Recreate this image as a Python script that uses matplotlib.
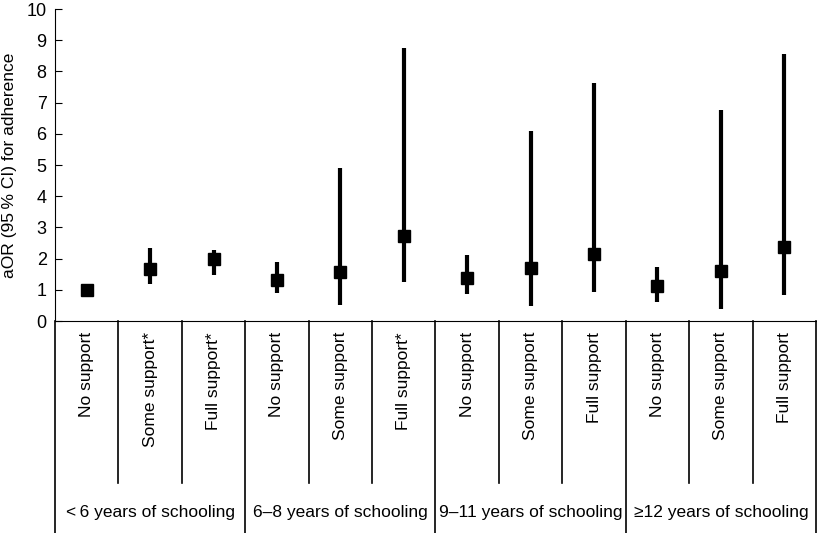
import numpy as np
import matplotlib
matplotlib.use('Agg')
import matplotlib.pyplot as plt

plt.rcParams['font.family'] = ['Liberation Sans', 'DejaVu Sans']

# dados
grupos = ['<\u20096 years of schooling', '6\u20138 years of schooling',
          '9\u201311 years of schooling', '\u226512 years of schooling']
apoio = ['No support', 'Some support*', 'Full support*',
         'No support', 'Some support', 'Full support*',
         'No support', 'Some support', 'Full support',
         'No support', 'Some support', 'Full support']
aor = [1.00, 1.67, 1.98, 1.31, 1.58, 2.72, 1.37, 1.69, 2.15, 1.12, 1.61, 2.38]
ic_inf = [1.00, 1.19, 1.47, 0.89, 0.51, 1.26, 0.86, 0.48, 0.93, 0.60, 0.38, 0.83]
ic_sup = [1.00, 2.33, 2.27, 1.88, 4.90, 8.74, 2.12, 6.09, 7.64, 1.73, 6.76, 8.56]

W, H = 817, 533
fig = plt.figure(figsize=(W / 100, H / 100), dpi=100)
ax = fig.add_axes([55 / W, (H - 321) / H, (816 - 55) / W, (321 - 9) / H])

x = np.arange(len(aor))
ax.vlines(x, ic_inf, ic_sup, color='black', lw=3.0)
ax.plot(x, aor, 's', color='black', ms=9)

ax.set_xlim(-0.5, len(aor) - 0.5)
ax.set_ylim(0, 10)
ax.set_yticks(range(0, 11))
ax.tick_params(axis='y', direction='in', length=5, labelsize=13, pad=6)
ax.set_xticks([])
ax.spines['top'].set_visible(False)
ax.spines['right'].set_visible(False)
ax.set_ylabel('aOR (95\u2009% CI) for adherence', fontsize=12.5, labelpad=7)

# tabela abaixo do eixo
trans = ax.get_xaxis_transform()
px = 1 / 312.0  # pixels -> fração do eixo
y_meio = -(483 - 321) * px
y_fim = -(533 - 321) * px
for i in range(len(aor) + 1):
    xi = i - 0.5
    if i % 3 == 0:
        ax.plot([xi, xi], [0, y_fim], color='black', lw=1.2,
                transform=trans, clip_on=False)
    else:
        ax.plot([xi, xi], [0, y_meio], color='black', lw=1.2,
                transform=trans, clip_on=False)

for i, rot in enumerate(apoio):
    ax.text(i, -(332 - 321) * px, rot, rotation=90, ha='center', va='top',
            fontsize=12.5, transform=trans)

for g, nome in enumerate(grupos):
    ax.text(3 * g + 1, -(512 - 321) * px, nome, ha='center', va='center',
            fontsize=12.5, transform=trans)

fig.savefig('out.png', dpi=100)
